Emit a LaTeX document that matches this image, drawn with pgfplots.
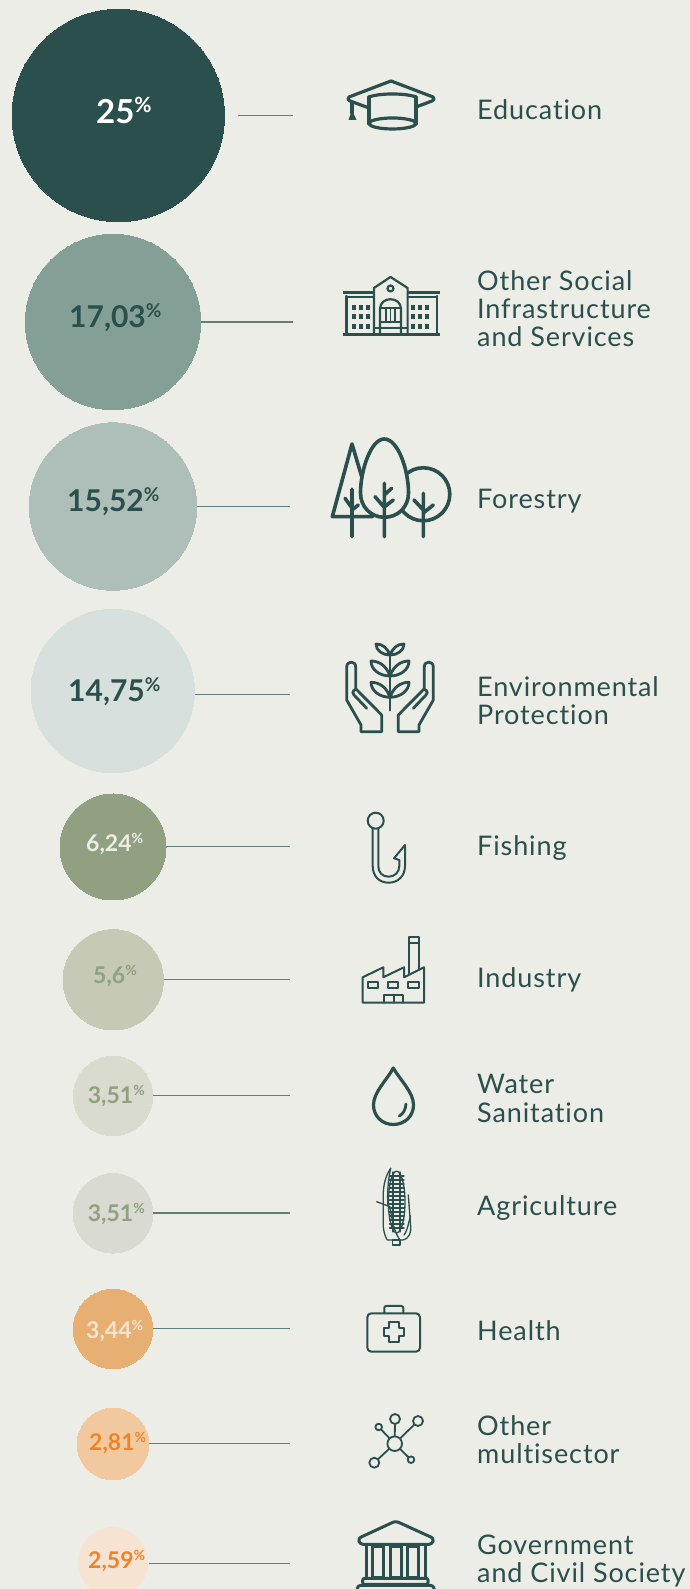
\documentclass[border=0pt]{standalone}
\usepackage{pgfplots}
\pgfplotsset{compat=1.18}
\usepackage{fontspec}
\setmainfont{Lato}
\newfontfamily\labelfont[LetterSpace=3.3,Ligatures={NoCommon,NoRequired,NoContextual},Kerning=On]{Lato}
\definecolor{bg}{HTML}{ECEDE7}
\definecolor{ink}{HTML}{2B4F4C}
\definecolor{rule}{HTML}{5F7F7B}
\definecolor{cA}{HTML}{2B4F4C}
\definecolor{cB}{HTML}{84A096}
\definecolor{cC}{HTML}{AEBFBA}
\definecolor{cD}{HTML}{D7E0DC}
\definecolor{cE}{HTML}{90A081}
\definecolor{cF}{HTML}{C5C9B5}
\definecolor{cG}{HTML}{D9DBCF}
\definecolor{cH}{HTML}{D9DBD2}
\definecolor{cI}{HTML}{E8AF72}
\definecolor{cJ}{HTML}{F2C99E}
\definecolor{cK}{HTML}{F7E3D2}
\definecolor{orangeT}{HTML}{EE8427}
\newcommand{\bubble}[4]{% cx, cy(neg), r, colour
  \addplot[only marks, color=#4, mark=*, mark size=#3pt, mark options={draw=#4, fill=#4, line width=0pt}] coordinates {(#1,#2)};}
\newcommand{\leader}[3]{% x1,x2,y
  \addplot[rule, line width=1.3pt, no marks] coordinates {(#1,#3) (#2,#3)};}
\newcommand{\vlab}[5]{% x, baseline, size, colour, digits
  \node[anchor=base west, inner sep=0pt, text=#4] at (#1,#2)
   {\fontsize{#3}{#3}\selectfont\bfseries #5\raisebox{0.36em}{\fontsize{\numexpr#3*63/100\relax}{10}\selectfont\bfseries\%}};}
\newcommand{\tlab}[2]{%
  \node[anchor=base west, inner sep=0pt, text=ink] at (axis cs:477,#1)
   {\fontsize{27}{28}\labelfont\selectfont #2};}
\begin{document}
\begin{tikzpicture}
\useasboundingbox (0,0) rectangle (690pt,1589pt);
\fill[bg] (0,0) rectangle (690pt,1589pt);
\begin{axis}[at={(0,0)}, anchor=south west, scale only axis, width=690pt, height=1589pt,
  xmin=0, xmax=690, ymin=-1589, ymax=0, axis lines=none, clip=true]
\leader{237.7}{292.7}{-115.7}
\leader{201}{292.7}{-322}
\leader{197}{290}{-506.5}
\leader{193}{290}{-694.6}
\leader{166}{290}{-846.7}
\leader{163.5}{290}{-979.3}
\leader{153}{290}{-1095.7}
\leader{153}{290}{-1213}
\leader{153}{290}{-1328.7}
\leader{149}{290}{-1443.7}
\leader{149}{290}{-1563.7}
\bubble{118.3}{-115.5}{106.2}{cA}
\bubble{113}{-322}{87.7}{cB}
\bubble{113}{-506.6}{83.7}{cC}
\bubble{112.7}{-691}{81.7}{cD}
\bubble{113}{-847}{53}{cE}
\bubble{113.2}{-979.8}{50.2}{cF}
\bubble{113}{-1096}{39.8}{cG}
\bubble{113}{-1213.3}{39.8}{cH}
\bubble{113}{-1329}{39.8}{cI}
\bubble{113}{-1444}{35.8}{cJ}
\bubble{113}{-1562}{34.5}{cK}
\tlab{-119.5}{Education}
\tlab{-291}{Other Social}
\tlab{-319}{Infrastructure}
\tlab{-347}{and Services}
\tlab{-509}{Forestry}
\tlab{-697}{Environmental}
\tlab{-725}{Protection}
\tlab{-855.5}{Fishing}
\tlab{-988}{Industry}
\tlab{-1094}{Water}
\tlab{-1122.5}{Sanitation}
\tlab{-1215.5}{Agriculture}
\tlab{-1340.5}{Health}
\tlab{-1435.5}{Other}
\tlab{-1463.5}{multisector}
\tlab{-1554.5}{Government}
\tlab{-1582.5}{and Civil Society}
\end{axis}
\begin{scope}[x=1pt, y=-1pt, yshift=1589pt, draw=ink, line join=round, line cap=round]
\vlab{96}{124}{33}{white}{25}
\vlab{69}{328}{30}{ink}{17,03}
\vlab{67}{512}{30}{ink}{15,52}
\vlab{68}{702}{30}{ink}{14,75}
\vlab{86}{852}{23}{bg}{6,24}
\vlab{93}{984}{23}{cE}{5,6}
\vlab{87.7}{1103.3}{23}{cE}{3,51}
\vlab{87.7}{1221.7}{23}{cE}{3,51}
\vlab{86}{1339}{23}{cK}{3,44}
\vlab{89}{1450.3}{23}{orangeT}{2,81}
\vlab{88}{1568.3}{23}{orangeT}{2,59}
% Education
\begin{scope}[line width=3.2pt]
\draw (391,81) -- (349,97) .. controls (347,99) and (348,100) .. (350,101) -- (369,108);
\draw (391,81) -- (433,97) .. controls (435,99) and (434,100) .. (432,101) -- (416,107);
\draw (369,97) .. controls (380,93) and (405,93) .. (416,97);
\draw (369,97) -- (369,124); \draw (416,97) -- (416,124);
\draw (392.5,123.5) ellipse (23.5pt and 5.5pt);
\draw (352,102) -- (352,113);
\end{scope}
\fill[ink] (352,110) -- (348.5,120) -- (356.5,120) -- cycle;
% School
\begin{scope}[line width=2.2pt]
\draw[line width=3pt,line cap=butt] (343,335) -- (440,335);
\draw[line width=3pt,line cap=butt] (343,293) -- (374,293) (407.6,293) -- (440,293);
\draw (346.5,296) -- (346.5,334) (437,296) -- (437,334);
\draw (346.5,297) -- (374,297) (407.6,297) -- (437,297);
\draw (374,334) -- (374,288) -- (390.5,277) -- (407.6,288) -- (407.6,334);
\draw (390.5,288.5) circle (3pt);
\draw (380,334) -- (380,309) .. controls (380,296) and (401,296) .. (401,309) -- (401,334);
\draw (380,308) -- (401,308) (380,322) -- (401,322) (374,328) -- (407.6,328);
\draw[line width=1.4pt] (386,309) -- (386,322) (390.5,309) -- (390.5,322) (395,309) -- (395,322);
\end{scope}
\foreach \x in {354,361,368,413,420,427}
 \foreach \y in {308,317,327}
  \fill[ink] (\x-2,\y-2.5) rectangle (\x+2,\y+2.5);
% Forestry
\begin{scope}[line width=3.6pt]
\draw (361.7,476.7) -- (352,444) -- (332.3,516.7) -- (372.7,516.7);
\draw (352,489.3) -- (352,536.7) (345,498.3) -- (352,508) (358.3,505) -- (352,510);
\draw (423.3,494.3) circle (26.5pt);
\draw[fill=bg] (384.3,439) .. controls (371,439) and (360.5,470) .. (360.5,493) .. controls (360.5,507) and (371,517.3) .. (384.3,517.3) .. controls (398,517.3) and (408.5,507) .. (408.5,493) .. controls (408.5,470) and (398,439) .. (384.3,439) -- cycle;
\draw (384.3,483.3) -- (384.3,536.7) (375,496.7) -- (384.3,507.3) (393.3,500) -- (384.3,507) (391.7,488.3) -- (384.3,495);
\draw (423.3,493.3) -- (423.3,536.7) (414,500) -- (423.3,510) (433.3,505) -- (423.3,513);
\end{scope}
% Environmental protection
\begin{scope}[line width=2.8pt]
\foreach \m/\o in {1/0,-1/780}{
\begin{scope}[xshift=\o pt, x=\m pt]
\draw (381.7,715) -- (381.7,731.7) -- (361,731.7) -- (361,725) -- (346.7,700) -- (346.7,667) .. controls (346.7,660.5) and (355.7,660.5) .. (355.7,667) -- (355.7,688);
\draw (356,689) -- (381.7,715);
\draw (356,689) .. controls (352,691) and (352,694) .. (354,695) -- (366.7,708.3);
\draw (390,653) -- (390,710);
\draw (390,655) .. controls (387,648) and (383,644) .. (376,644) .. controls (376,651) and (383,655) .. (390,655);
\draw (390,676) .. controls (387,667) and (380,661) .. (371,661) .. controls (371,670) and (380,676) .. (390,676);
\draw (390,697.3) .. controls (387,688) and (380,682.3) .. (371,682.3) .. controls (371,691) and (380,697.3) .. (390,697.3);
\end{scope}}
\end{scope}
% Hook
\begin{scope}[line width=2pt]
\draw (375.7,820.7) circle (8pt);
\draw (372.7,828) -- (372.7,866) .. controls (372.7,876) and (379,882.7) .. (388.5,882.7) .. controls (398,882.7) and (405,876) .. (405,866) -- (405,845) -- (394,858.3) -- (399.3,860) -- (399.3,866) .. controls (399.3,872) and (395,876.7) .. (388.5,876.7) .. controls (382,876.7) and (378.3,872) .. (378.3,866) -- (378.3,828);
\end{scope}
% Factory
\begin{scope}[line width=2pt]
\draw (362.7,1002.7) -- (362.7,977.3) -- (383.3,967.3) -- (383.3,977.3) -- (404,967.3) -- (404,977.3) -- (424,967.3) -- (424,1002.7) -- cycle;
\draw (409.3,973.3) -- (409.3,936.7) -- (419,936.7) -- (419,969) (409.3,942.7) -- (419,942.7);
\draw (368.3,982.3) rectangle (378.3,987.7) (388.3,982.3) rectangle (398.3,987.7) (408.3,982.3) rectangle (419,987.7);
\draw (384,1002.7) -- (384,994.7) -- (403.3,994.7) -- (403.3,1002.7) (393.7,994.7) -- (393.7,1002.7);
\end{scope}
% Drop
\draw[line width=3.2pt] (393.3,1068) .. controls (387,1080) and (373.5,1092) .. (373.5,1105) .. controls (373.5,1116) and (382,1124.5) .. (393.3,1124.5) .. controls (405,1124.5) and (413.5,1116) .. (413.5,1105) .. controls (413.5,1092) and (400,1080) .. (393.3,1068) -- cycle;
\draw[line width=2.8pt] (406,1104) .. controls (405.5,1110) and (403,1114) .. (399.3,1116);
% Corn
\begin{scope}[line width=1.3pt]
\draw (396.7,1202) ellipse (8.3pt and 30.8pt);
\foreach \y in {1176,1180,...,1230} \draw[line width=1.3pt] (389.5,\y) -- (404,\y);
\draw (393,1172) -- (393,1232) (400,1172) -- (400,1232);
\draw (390.7,1168.3) .. controls (384,1178) and (383,1190) .. (383.3,1196.7) -- (383.3,1226.7) .. controls (384,1234) and (386,1238) .. (387.3,1240) -- (403,1240) .. controls (410,1238) and (411,1232) .. (410.7,1226.7) -- (408.3,1195);
\draw (390.7,1168.3) .. controls (388,1180) and (387,1195) .. (388,1206);
\draw (376.7,1201.7) -- (390,1206.7) .. controls (392,1220) and (394,1232) .. (400,1240);
\draw (404,1235) .. controls (408,1230) and (409,1220) .. (410.5,1216);
\draw (392.7,1240) rectangle (400,1245);
\end{scope}
% Health kit
\begin{scope}[line width=2pt]
\draw[rounded corners=4pt] (367.3,1313.3) rectangle (420,1351.7);
\draw[rounded corners=2pt] (384.3,1313.3) -- (384.3,1306) -- (403.3,1306) -- (403.3,1313.3);
\draw (389.3,1322) -- (398.7,1322) -- (398.7,1328) -- (404,1328) -- (404,1336.5) -- (398.7,1336.5) -- (398.7,1342) -- (389.3,1342) -- (389.3,1336.5) -- (384,1336.5) -- (384,1328) -- (389.3,1328) -- cycle;
\end{scope}
% Network
\begin{scope}[line width=1.8pt]
\draw (394.7,1443.7) -- (395,1419) (394.7,1443.7) -- (418,1421) (394.7,1443.7) -- (378.7,1427) (394.7,1443.7) -- (374.3,1462.7) (394.7,1443.7) -- (411,1459.7);
\draw[fill=bg] (394.7,1443.7) circle (7.3pt) (395,1419) circle (5pt) (418,1421) circle (5pt) (378.7,1427) circle (3.3pt) (374.3,1462.7) circle (5pt) (411,1459.7) circle (3.3pt);
\end{scope}
% Temple
\begin{scope}[line width=3pt]
\draw[rounded corners=3pt] (395.7,1521) -- (358,1538.5) -- (360,1544.3) -- (432,1544.3) -- (434,1538.5) -- cycle;
\draw (366.5,1545) -- (366.5,1578) (425,1545) -- (425,1578);
\draw (372.7,1547) rectangle (383.3,1577.7) (390,1547) rectangle (401.7,1577.7) (407.3,1547) rectangle (418.3,1577.7);
\draw[rounded corners=2pt] (362.7,1578.3) rectangle (428,1584.5);
\draw[rounded corners=3pt] (357.3,1585.5) rectangle (434,1600);
\end{scope}
\end{scope}
\end{tikzpicture}
\end{document}
